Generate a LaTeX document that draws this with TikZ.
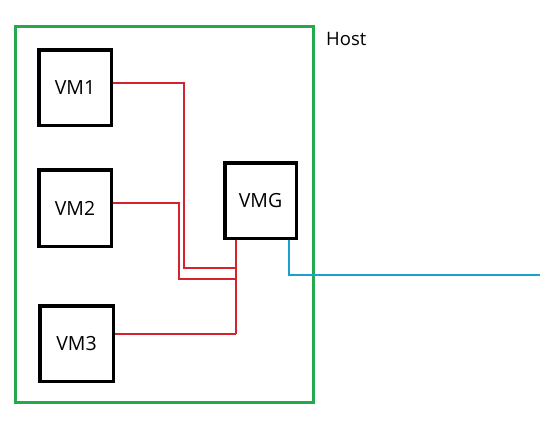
\documentclass[tikz,border=0pt]{standalone}
\usepackage{fontspec}
\setmainfont{Open Sans}
\usetikzlibrary{calc}

\definecolor{hostgreen}{RGB}{38,168,76}
\definecolor{linkred}{RGB}{212,34,46}
\definecolor{uplinkblue}{RGB}{28,160,208}

\begin{document}
\begin{tikzpicture}[x=1pt,y=-1pt,
    vmbox/.style={draw,line width=3.5pt,inner sep=0pt,font=\fontsize{19.5}{22}\selectfont},
    redwire/.style={draw=linkred,line width=2pt},
    bluewire/.style={draw=uplinkblue,line width=2pt}]
        \useasboundingbox (0,0) rectangle (540,429);

        % host frame
        \draw[hostgreen,line width=3pt] (15.5,26.5) rectangle (313.5,402.5);
        \node[anchor=west,inner sep=0pt,font=\fontsize{18.5}{21}\selectfont] (host) at (326,39) {Host};

        % virtual machines
        \node[vmbox,minimum width=72.5pt,minimum height=75.5pt] (vm1) at (75,87.5) {VM1};
        \node[vmbox,minimum width=72.5pt,minimum height=76.5pt] (vm2) at (75,208) {VM2};
        \node[vmbox,minimum width=73.5pt,minimum height=75.5pt] (vm3) at (76.5,343.5) {VM3};
        \node[vmbox,minimum width=71.5pt,minimum height=75.5pt] (vmg) at (260.5,200.5) {VMG};

        % internal links to the gateway
        \coordinate (bus1) at (236,268);
        \coordinate (bus2) at (236,279);
        \coordinate (bus3) at (236,333.5);
        \draw[redwire] ([yshift=4.5pt]vm1.east) -| (184,268) -- (bus1);
        \draw[redwire] ([yshift=5pt]vm2.east) -| (179,279) -- (bus2);
        \draw[redwire] ([yshift=10pt]vm3.east) -- (bus3);
        \draw[redwire] (vmg.south -| bus3) -- (bus3);

        % uplink
        \coordinate (uplink) at (540,275);
        \draw[bluewire] ([xshift=28pt]vmg.south) |- (uplink);
      \end{tikzpicture}
\end{document}
